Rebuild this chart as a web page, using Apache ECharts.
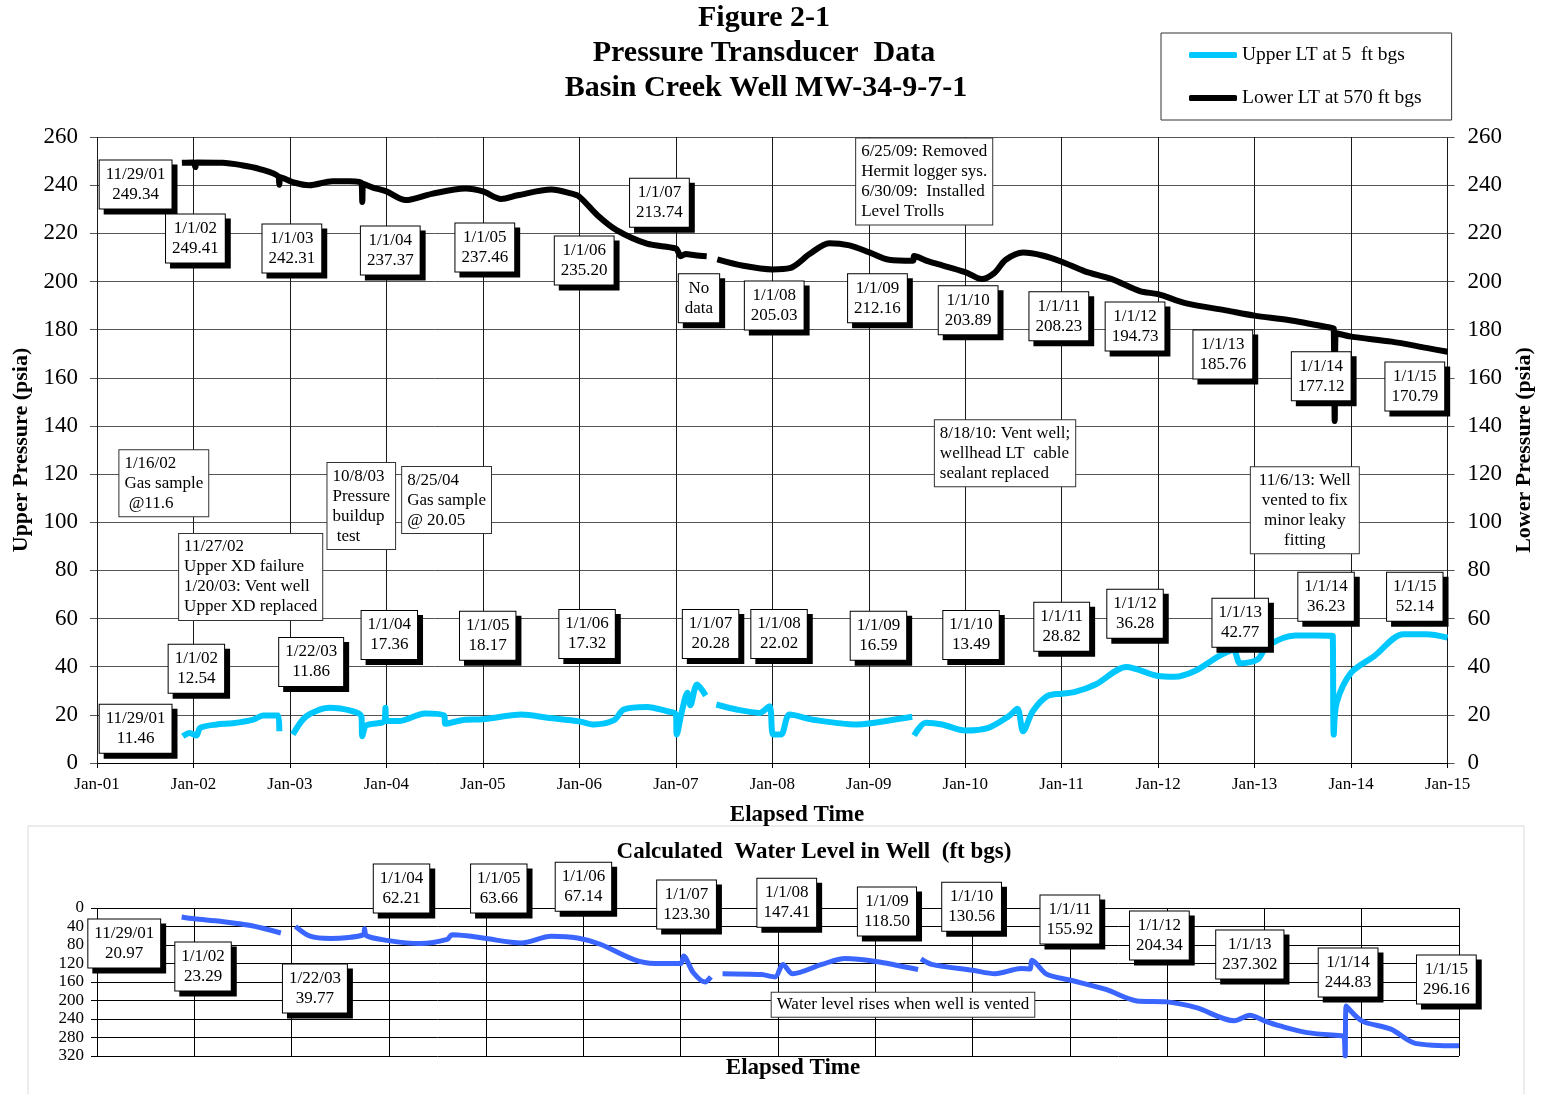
<!DOCTYPE html>
<html>
<head>
<meta charset="utf-8">
<script src="https://cdn.jsdelivr.net/npm/echarts@6/dist/echarts.min.js"></script>
<style>
html, body { margin: 0; background: #fff; }
#chart { width: 1543px; height: 1094px; }
</style>
</head>
<body>
<div id="chart"></div>
<script>
// decimal years, null = no data (gap in the trace)
var lowerYears = [2001.88, 2002.0, 2002.02, 2002.03, 2002.3, 2002.5, 2002.68, 2002.88, 2002.89, 2002.9, 2003.05, 2003.2, 2003.44, 2003.62, 2003.74, 2003.75, 2003.76, 2003.86, 2004.0, 2004.2, 2004.47, 2004.82, 2005.0, 2005.19, 2005.36, 2005.71, 2005.91, 2006.0, 2006.19, 2006.39, 2006.7, 2007.0, 2007.03, 2007.05, 2007.1, 2007.2, 2007.32, 2007.37, 2007.43, 2007.7, 2008.0, 2008.18, 2008.39, 2008.59, 2008.8, 2009.0, 2009.21, 2009.46, 2009.47, 2009.62, 2010.0, 2010.17, 2010.3, 2010.42, 2010.6, 2010.8, 2011.0, 2011.24, 2011.52, 2011.81, 2012.0, 2012.28, 2012.7, 2013.0, 2013.35, 2013.81, 2013.82, 2013.83, 2013.84, 2013.86, 2014.0, 2014.42, 2014.78, 2015.0];
var lowerPsia = [249.3, 249.4, 247.5, 249.4, 249.3, 248.3, 246.8, 243.6, 240.2, 243.3, 241.0, 240.0, 241.6, 241.6, 241.0, 233.0, 240.6, 239.0, 237.4, 233.8, 236.4, 238.6, 237.4, 234.3, 235.8, 238.2, 236.6, 235.2, 227.4, 221.2, 215.7, 213.7, 211.8, 210.5, 211.4, 210.9, 210.5, null, 209.2, 206.5, 205.0, 205.5, 211.5, 215.9, 215.0, 212.2, 209.0, 208.6, 210.6, 208.3, 203.9, 201.0, 203.5, 209.0, 212.0, 210.8, 208.2, 204.2, 201.0, 196.0, 194.7, 191.0, 188.0, 185.8, 184.0, 180.6, 180.4, 142.0, 178.6, 178.4, 177.1, 175.0, 172.4, 170.8];

var upperYears = [2001.89, 2001.96, 2002.03, 2002.07, 2002.24, 2002.41, 2002.62, 2002.72, 2002.88, 2002.89, 2002.95, 2003.03, 2003.17, 2003.41, 2003.65, 2003.74, 2003.75, 2003.79, 2003.98, 2003.99, 2004.0, 2004.13, 2004.4, 2004.6, 2004.61, 2004.82, 2005.0, 2005.4, 2005.67, 2006.0, 2006.15, 2006.36, 2006.46, 2006.7, 2006.91, 2007.0, 2007.01, 2007.06, 2007.12, 2007.15, 2007.22, 2007.31, 2007.37, 2007.42, 2007.63, 2007.87, 2007.97, 2008.01, 2008.09, 2008.18, 2008.42, 2008.87, 2009.0, 2009.45, 2009.46, 2009.47, 2009.59, 2009.76, 2010.0, 2010.24, 2010.45, 2010.54, 2010.6, 2010.7, 2010.85, 2011.0, 2011.13, 2011.35, 2011.67, 2012.0, 2012.17, 2012.38, 2012.63, 2012.78, 2012.85, 2013.03, 2013.13, 2013.42, 2013.8, 2013.81, 2013.82, 2013.85, 2014.0, 2014.24, 2014.54, 2014.78, 2015.0];
var upperPsia = [11.1, 12.5, 11.4, 14.6, 16.0, 16.5, 18.0, 19.7, 19.7, 13.2, null, 11.8, 19.4, 22.9, 21.5, 19.4, 11.1, 15.6, 17.4, 22.9, 17.4, 17.4, 20.6, 19.7, 16.3, 18.0, 18.2, 20.1, 18.8, 17.3, 16.0, 17.8, 22.2, 23.3, 21.5, 20.3, 11.8, 21.0, 29.2, 24.0, 32.6, 28.0, null, 24.3, 22.2, 20.8, 23.6, 11.8, 11.8, 20.1, 18.0, 16.0, 16.4, 19.2, null, 11.4, 16.7, 16.0, 13.5, 14.6, 19.4, 22.5, 13.2, 21.5, 27.8, 28.8, 29.4, 32.6, 39.9, 36.1, 35.8, 38.2, 44.4, 46.9, 41.4, 43.0, 48.6, 53.0, 52.9, 52.8, 11.8, 25.0, 37.5, 44.4, 53.5, 53.5, 52.1];

var levelYears = [2001.87, 2002.0, 2002.27, 2002.58, 2002.89, 2002.95, 2003.04, 2003.19, 2003.4, 2003.74, 2003.75, 2003.77, 2003.98, 2004.32, 2004.6, 2004.65, 2004.8, 2005.0, 2005.36, 2005.67, 2005.94, 2006.18, 2006.52, 2006.73, 2007.0, 2007.03, 2007.13, 2007.25, 2007.31, 2007.37, 2007.43, 2007.83, 2007.97, 2008.05, 2008.15, 2008.45, 2008.69, 2008.99, 2009.44, 2009.46, 2009.47, 2009.58, 2010.0, 2010.23, 2010.5, 2010.59, 2010.61, 2010.76, 2011.0, 2011.37, 2011.69, 2012.0, 2012.3, 2012.69, 2012.85, 2013.0, 2013.16, 2013.44, 2013.81, 2013.82, 2013.83, 2013.84, 2014.0, 2014.3, 2014.55, 2015.0];
var levelFt = [19.4, 23.3, 28.8, 38.0, 54.0, null, 39.6, 61.0, 66.0, 57.6, 45.0, 60.0, 70.0, 77.0, 68.0, 57.6, 60.0, 66.0, 75.5, 61.0, 65.0, 79.0, 111.5, 120.0, 120.0, 104.0, 140.0, 160.0, 149.0, null, 142.0, 144.0, 149.0, 122.0, 142.0, 122.0, 109.0, 115.0, 133.0, null, 110.0, 122.0, 134.5, 142.0, 131.0, 132.0, 113.0, 143.0, 155.7, 176.0, 201.0, 203.0, 215.5, 244.0, 232.0, 244.0, 255.0, 269.5, 276.6, 276.8, 320.0, 212.0, 244.0, 262.0, 292.6, 298.0];

// callouts: [year, value, text]
var lowerTags = [
    [2001.40, 240.3, '11/29/01\n249.34'], [2002.02, 217.8, '1/1/02\n249.41'], [2003.02, 213.7, '1/1/03\n242.31'],
    [2004.04, 212.9, '1/1/04\n237.37'], [2005.02, 214.1, '1/1/05\n237.46'], [2006.05, 208.7, '1/1/06\n235.20'],
    [2006.83, 232.7, '1/1/07\n213.74'], [2007.24, 193.0, 'No\ndata'], [2008.02, 190.0, '1/1/08\n205.03'],
    [2009.09, 193.0, '1/1/09\n212.16'], [2010.03, 188.0, '1/1/10\n203.89'], [2010.97, 185.5, '1/1/11\n208.23'],
    [2011.76, 181.3, '1/1/12\n194.73'], [2012.67, 169.7, '1/1/13\n185.76'], [2013.69, 160.6, '1/1/14\n177.12'],
    [2014.66, 156.4, '1/1/15\n170.79']
];
var upperTags = [
    [2001.40, 14.2, '11/29/01\n11.46'], [2002.03, 39.1, '1/1/02\n12.54'], [2003.22, 42.0, '1/22/03\n11.86'],
    [2004.03, 53.2, '1/1/04\n17.36'], [2005.05, 52.8, '1/1/05\n18.17'], [2006.08, 53.6, '1/1/06\n17.32'],
    [2007.36, 53.6, '1/1/07\n20.28'], [2008.07, 53.6, '1/1/08\n22.02'], [2009.10, 52.8, '1/1/09\n16.59'],
    [2010.06, 53.2, '1/1/10\n13.49'], [2011.00, 56.6, '1/1/11\n28.82'], [2011.76, 62.0, '1/1/12\n36.28'],
    [2012.85, 58.2, '1/1/13\n42.77'], [2013.74, 69.0, '1/1/14\n36.23'], [2014.66, 69.0, '1/1/15\n52.14']
];
var eventNotes = [
    [2008.864, 241.5, '6/25/09: Removed\nHermit logger sys.\n6/30/09:  Installed\nLevel Trolls'],
    [2009.68, 128.7, '8/18/10: Vent well;\nwellhead LT  cable\nsealant replaced'],
    [2001.227, 116.2, '1/16/02\nGas sample\n @11.6'],
    [2001.846, 77.3, '11/27/02\nUpper XD failure\n1/20/03: Vent well\nUpper XD replaced'],
    [2003.384, 106.7, '10/8/03\nPressure\nbuildup\n test'],
    [2004.158, 109.2, '8/25/04\nGas sample\n@ 20.05']
];
var ventNote = [[2013.52, 105.0, '11/6/13: Well\nvented to fix\nminor leaky\nfitting']];
var levelTags = [
    [2001.28, 77, '11/29/01\n20.97'], [2002.09, 126.5, '1/1/02\n23.29'], [2003.24, 174, '1/22/03\n39.77'],
    [2004.13, -41.9, '1/1/04\n62.21'], [2005.13, -41.9, '1/1/05\n63.66'], [2006.0, -46.2, '1/1/06\n67.14'],
    [2007.06, -7.3, '1/1/07\n123.30'], [2008.09, -11.5, '1/1/08\n147.41'], [2009.12, 7.8, '1/1/09\n118.50'],
    [2009.99, -2.8, '1/1/10\n130.56'], [2011.0, 25, '1/1/11\n155.92'], [2011.92, 59.7, '1/1/12\n204.34'],
    [2012.85, 100.6, '1/1/13\n237.302'], [2013.86, 139.5, '1/1/14\n244.83'], [2014.87, 154.5, '1/1/15\n296.16']
];
var levelNote = [[2007.93, 209.3, 'Water level rises when well is vented']];

var serif = 'Liberation Serif';

function pairs(xs, ys) {
    return xs.map(function (x, i) { return [x, ys[i] === null ? '-' : ys[i]]; });
}
function yearLabel(v) {
    return 'Jan-' + String(Math.round(v) % 100).padStart(2, '0');
}

// boxed callout with a hard drop shadow
var shadowBox = {
    show: true,
    position: 'inside',
    formatter: function (p) { return p.data[2]; },
    fontFamily: serif,
    fontSize: 17,
    lineHeight: 20,
    color: '#000',
    opacity: 1,
    align: 'center',
    backgroundColor: '#fff',
    borderColor: '#000',
    borderWidth: 1,
    padding: [4, 6],
    shadowColor: '#000',
    shadowOffsetX: 5,
    shadowOffsetY: 5,
    shadowBlur: 0
};
// plain note box, anchored at its left edge
var noteBox = {
    show: true,
    position: 'right',
    distance: 0,
    formatter: function (p) { return p.data[2]; },
    fontFamily: serif,
    fontSize: 17,
    lineHeight: 20,
    color: '#000',
    opacity: 1,
    backgroundColor: '#fff',
    borderColor: '#333',
    borderWidth: 1,
    padding: [3, 5]
};

function tagSeries(data, label, xIdx, yIdx) {
    return {
        type: 'scatter',
        xAxisIndex: xIdx,
        yAxisIndex: yIdx,
        data: data,
        symbolSize: 1,
        itemStyle: { color: 'rgba(0,0,0,0)', opacity: 1 },
        label: label,
        clip: false,
        silent: true,
        z: 10
    };
}

var myChart = echarts.init(document.getElementById('chart'));

var titleFont = 'bold 30px "Liberation Serif"';
var subFont = 'bold 23px "Liberation Serif"';

var option = {
    backgroundColor: '#fff',
    animation: false,
    graphic: [
        { type: 'rect', z: -10, shape: { x: 28, y: 826, width: 1496, height: 280 }, style: { fill: 'none', stroke: '#d9d9d9', lineWidth: 1 } },
        { type: 'text', x: 764, y: 18, style: { text: 'Figure 2-1', font: titleFont, fill: '#000', textAlign: 'center', textVerticalAlign: 'middle' } },
        { type: 'text', x: 764, y: 53, style: { text: 'Pressure Transducer  Data', font: titleFont, fill: '#000', textAlign: 'center', textVerticalAlign: 'middle' } },
        { type: 'text', x: 766, y: 88, style: { text: 'Basin Creek Well MW-34-9-7-1', font: titleFont, fill: '#000', textAlign: 'center', textVerticalAlign: 'middle' } },
        { type: 'text', x: 797, y: 815, style: { text: 'Elapsed Time', font: subFont, fill: '#000', textAlign: 'center', textVerticalAlign: 'middle' } },
        { type: 'text', x: 814, y: 852, style: { text: 'Calculated  Water Level in Well  (ft bgs)', font: subFont, fill: '#000', textAlign: 'center', textVerticalAlign: 'middle' } },
        { type: 'text', x: 793, y: 1068, style: { text: 'Elapsed Time', font: subFont, fill: '#000', textAlign: 'center', textVerticalAlign: 'middle' } }
    ],
    legend: {
        data: ['Upper LT at 5  ft bgs', 'Lower LT at 570 ft bgs'],
        orient: 'vertical',
        left: 1161,
        top: 33,
        padding: [12, 30, 12, 28],
        itemGap: 23,
        itemWidth: 48,
        itemHeight: 6,
        icon: 'roundRect',
        borderColor: '#333',
        borderWidth: 1,
        textStyle: { fontFamily: serif, fontSize: 19.5, color: '#000' }
    },
    grid: [
        { left: 97, top: 137, right: 89, height: 626 },
        { left: 97, top: 908, right: 84, height: 148 }
    ],
    xAxis: [
        {
            type: 'value', gridIndex: 0, min: 2001, max: 2015, interval: 1,
            axisLine: { lineStyle: { color: '#000' } },
            axisTick: { show: true, length: 5, lineStyle: { color: '#000' } },
            axisLabel: { formatter: yearLabel, fontFamily: serif, fontSize: 17, color: '#000', margin: 13 },
            splitLine: { show: true, lineStyle: { color: '#1a1a1a', width: 1 } }
        },
        {
            type: 'value', gridIndex: 1, min: 2001, max: 2015, interval: 1,
            axisLine: { lineStyle: { color: '#000' } },
            axisTick: { show: false },
            axisLabel: { show: false },
            splitLine: { show: true, lineStyle: { color: '#000', width: 1 } }
        }
    ],
    yAxis: [
        {
            type: 'value', gridIndex: 0, min: 0, max: 260, interval: 20,
            name: 'Upper Pressure (psia)', nameLocation: 'middle', nameGap: 64, nameRotate: 90,
            nameTextStyle: { fontFamily: serif, fontSize: 22, fontWeight: 'bold', color: '#000' },
            axisLine: { show: false },
            axisTick: { show: true, length: 7, lineStyle: { color: '#555' } },
            axisLabel: { fontFamily: serif, fontSize: 23, color: '#000', margin: 19 },
            splitLine: { show: true, lineStyle: { color: '#555', width: 1 } }
        },
        {
            type: 'value', gridIndex: 0, min: 0, max: 260, interval: 20, position: 'right',
            name: 'Lower Pressure (psia)', nameLocation: 'middle', nameGap: 64, nameRotate: 90,
            nameTextStyle: { fontFamily: serif, fontSize: 22, fontWeight: 'bold', color: '#000' },
            axisLine: { show: false },
            axisTick: { show: true, length: 7, lineStyle: { color: '#555' } },
            axisLabel: { fontFamily: serif, fontSize: 23, color: '#000', margin: 20 },
            splitLine: { show: false }
        },
        {
            type: 'value', gridIndex: 1, min: 0, max: 320, interval: 40, inverse: true,
            axisLine: { show: false },
            axisTick: { show: true, length: 6, lineStyle: { color: '#000' } },
            axisLabel: { fontFamily: serif, fontSize: 17, color: '#000', margin: 13 },
            splitLine: { show: true, lineStyle: { color: '#000', width: 1 } }
        }
    ],
    series: [
        {
            name: 'Lower LT at 570 ft bgs',
            type: 'line',
            xAxisIndex: 0, yAxisIndex: 1,
            data: pairs(lowerYears, lowerPsia),
            showSymbol: false, symbol: 'none',
            smooth: 0.3,
            color: '#000',
            lineStyle: { width: 6, color: '#000' },
            z: 3
        },
        {
            name: 'Upper LT at 5  ft bgs',
            type: 'line',
            xAxisIndex: 0, yAxisIndex: 0,
            data: pairs(upperYears, upperPsia),
            showSymbol: false, symbol: 'none',
            smooth: 0.3,
            color: '#00C8FF',
            lineStyle: { width: 6, color: '#00C8FF' },
            z: 3
        },
        {
            name: 'Water level',
            type: 'line',
            xAxisIndex: 1, yAxisIndex: 2,
            data: pairs(levelYears, levelFt),
            showSymbol: false, symbol: 'none',
            smooth: 0.3,
            color: '#3A66FF',
            lineStyle: { width: 5, color: '#3A66FF' },
            z: 3
        },
        tagSeries(lowerTags, shadowBox, 0, 0),
        tagSeries(upperTags, shadowBox, 0, 0),
        tagSeries(eventNotes, noteBox, 0, 0),
        tagSeries(ventNote, Object.assign({}, noteBox, { position: 'inside', align: 'center', padding: [3, 8] }), 0, 0),
        tagSeries(levelTags, shadowBox, 1, 2),
        tagSeries(levelNote, Object.assign({}, noteBox, { lineHeight: 18 }), 1, 2)
    ]
};

myChart.setOption(option);
window.addEventListener('resize', function () { myChart.resize(); });
</script>
</body>
</html>
